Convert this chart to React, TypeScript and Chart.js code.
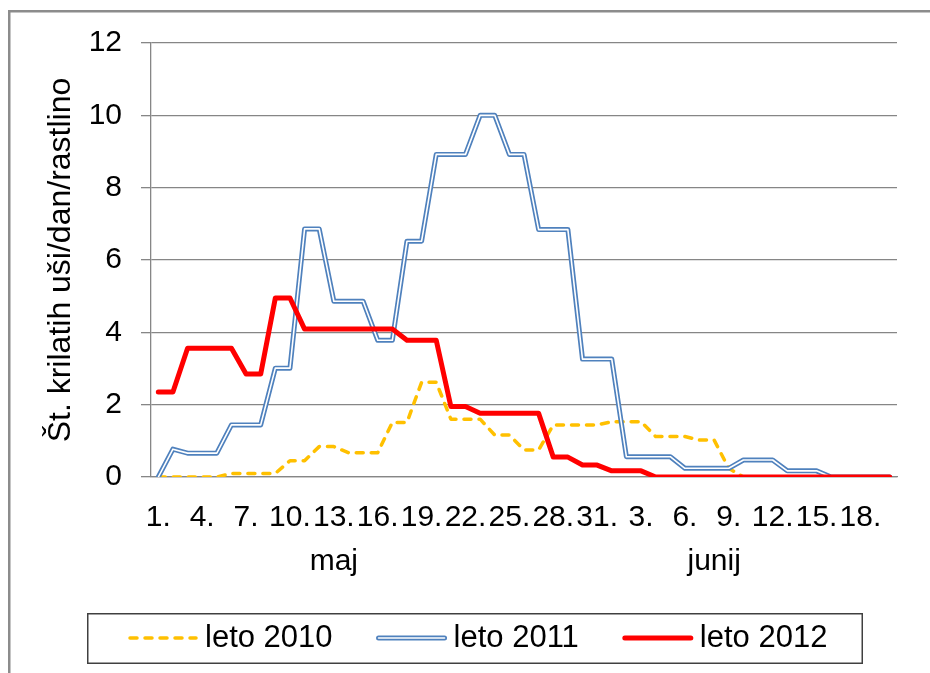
import React, { useEffect, useRef } from 'react';
import { Chart, registerables } from 'chart.js';

Chart.register(...registerables);

// ---- data ----
const dayLabels = [
  '1.', '2.', '3.', '4.', '5.', '6.', '7.', '8.', '9.', '10.',
  '11.', '12.', '13.', '14.', '15.', '16.', '17.', '18.', '19.', '20.',
  '21.', '22.', '23.', '24.', '25.', '26.', '27.', '28.', '29.', '30.', '31.',
  '1.', '2.', '3.', '4.', '5.', '6.', '7.', '8.', '9.', '10.',
  '11.', '12.', '13.', '14.', '15.', '16.', '17.', '18.', '19.', '20.',
];
const monthNames = ['maj', 'junij'];
const monthLabelIndex = [12, 38];

const values2010 = [
  0, 0, 0, 0, 0, 0.1, 0.1, 0.1, 0.1, 0.45,
  0.45, 0.84, 0.84, 0.67, 0.67, 0.67, 1.51, 1.51, 2.62, 2.62,
  1.6, 1.6, 1.6, 1.16, 1.16, 0.75, 0.75, 1.44, 1.44, 1.44,
  1.44, 1.53, 1.53, 1.53, 1.12, 1.12, 1.12, 1.02, 1.02, 0.24,
  0, 0, 0, 0, 0, 0, 0, 0, 0, 0, 0,
];
const values2011 = [
  0, 0.77, 0.66, 0.66, 0.66, 1.44, 1.44, 1.44, 3.01, 3.01,
  6.86, 6.86, 4.86, 4.86, 4.86, 3.78, 3.78, 6.52, 6.52, 8.92,
  8.92, 8.92, 10.0, 10.0, 8.92, 8.92, 6.84, 6.84, 6.84, 3.26,
  3.26, 3.26, 0.56, 0.56, 0.56, 0.56, 0.24, 0.24, 0.24, 0.24,
  0.47, 0.47, 0.47, 0.17, 0.17, 0.17, 0, 0, 0, 0, 0,
];
const values2012 = [
  2.35, 2.35, 3.56, 3.56, 3.56, 3.56, 2.85, 2.85, 4.95, 4.95,
  4.09, 4.09, 4.09, 4.09, 4.09, 4.09, 4.09, 3.78, 3.78, 3.78,
  1.95, 1.95, 1.76, 1.76, 1.76, 1.76, 1.76, 0.55, 0.55, 0.33,
  0.33, 0.17, 0.17, 0.17, 0, 0, 0, 0, 0, 0,
  0, 0, 0, 0, 0, 0, 0, 0, 0, 0, 0,
];
const seriesNames = ['leto 2010', 'leto 2011', 'leto 2012'];
const yTitle = 'Št. krilatih uši/dan/rastlino';

const FONT = "'Liberation Sans', Arial, sans-serif";
const GRID = '#868686';
const ORANGE = '#FFC000';
const BLUE = '#4F81BD';
const RED = '#FF0000';

const frameAndLegend = {
  id: 'frameAndLegend',
  afterDraw(chart: any) {
    const ctx = chart.ctx as CanvasRenderingContext2D;
    ctx.save();
    // outer frame
    ctx.strokeStyle = '#8c8c8c';
    ctx.lineWidth = 2.5;
    ctx.strokeRect(9.25, 11.25, 1000, 1000);
    // legend box
    ctx.strokeStyle = '#404040';
    ctx.lineWidth = 1.5;
    ctx.strokeRect(87.75, 613.75, 774.5, 49.5);

    const lineY = 638;
    const textY = 647;
    const sampleLen = 68;
    let x = 129;
    ctx.font = `31px ${FONT}`;
    ctx.textBaseline = 'alphabetic';
    ctx.textAlign = 'left';
    ctx.lineCap = 'round';
    const drawLine = (color: string, width: number, dash: number[]) => {
      ctx.beginPath();
      ctx.setLineDash(dash);
      ctx.strokeStyle = color;
      ctx.lineWidth = width;
      ctx.moveTo(x + 1, lineY);
      ctx.lineTo(x + sampleLen - 1, lineY);
      ctx.stroke();
    };
    seriesNames.forEach((name, i) => {
      if (i === 0) drawLine(ORANGE, 3.5, [7, 8]);
      if (i === 1) {
        drawLine(BLUE, 5, []);
        drawLine('#ffffff', 1.6, []);
      }
      if (i === 2) drawLine(RED, 5, []);
      ctx.setLineDash([]);
      ctx.fillStyle = '#000';
      ctx.fillText(name, x + sampleLen + 8, textY);
      x += sampleLen + 8 + ctx.measureText(name).width + 45;
    });
    ctx.restore();
  },
};

export default function App() {
  const ref = useRef<HTMLCanvasElement | null>(null);
  useEffect(() => {
    if (!ref.current) return;
    const chart = new Chart(ref.current, {
      type: 'line',
      data: {
        labels: dayLabels,
        datasets: [
          {
            label: seriesNames[2],
            data: values2012,
            borderColor: RED,
            borderWidth: 5,
            pointRadius: 0,
            borderJoinStyle: 'round',
            borderCapStyle: 'round',
            order: 0,
          },
          {
            label: '_inner2011',
            data: values2011,
            borderColor: '#ffffff',
            borderWidth: 1.6,
            pointRadius: 0,
            borderJoinStyle: 'round',
            order: 1,
          },
          {
            label: seriesNames[1],
            data: values2011,
            borderColor: BLUE,
            borderWidth: 5,
            pointRadius: 0,
            borderJoinStyle: 'round',
            borderCapStyle: 'round',
            order: 2,
          },
          {
            label: seriesNames[0],
            data: values2010,
            borderColor: ORANGE,
            borderWidth: 3.5,
            borderDash: [7, 8],
            borderCapStyle: 'round',
            borderJoinStyle: 'round',
            pointRadius: 0,
            order: 3,
          },
        ] as any,
      },
      options: {
        responsive: false,
        animation: false,
        events: [],
        devicePixelRatio: 1,
        layout: { padding: { left: 0, top: 43, right: 33, bottom: 0 } },
        plugins: { legend: { display: false }, tooltip: { enabled: false } },
        scales: {
          x: {
            type: 'category',
            offset: true,
            grid: { display: false, drawTicks: false },
            border: { display: true, color: GRID, width: 1.3 },
            afterFit: (scale: any) => { scale.height = 196; },
            ticks: {
              autoSkip: false,
              maxRotation: 0,
              minRotation: 0,
              padding: 19,
              color: '#000',
              font: { family: FONT, size: 30, lineHeight: 1.45 },
              callback: (_v: any, index: number) => {
                const day = index % 3 === 0 ? dayLabels[index] : '';
                const m = monthLabelIndex.indexOf(index);
                if (m >= 0) return [day, monthNames[m]];
                return day;
              },
            },
          },
          y: {
            min: 0,
            max: 12,
            afterFit: (scale: any) => { scale.width = 151; },
            grid: { color: GRID, lineWidth: 1.3, tickLength: 10, drawTicks: true },
            border: { display: true, color: GRID, width: 1.3 },
            ticks: {
              stepSize: 2,
              padding: 19,
              color: '#000',
              font: { family: FONT, size: 30 },
            },
            title: {
              display: true,
              text: yTitle,
              color: '#000',
              font: { family: FONT, size: 32 },
              padding: { top: 42, bottom: 0 },
            },
          },
        },
      } as any,
      plugins: [frameAndLegend],
    });
    return () => chart.destroy();
  }, []);
  return (
    <div style={{ position: 'absolute', left: 0, top: 0, width: 930, height: 673, background: '#fff' }}>
      <canvas ref={ref} width={930} height={673} style={{ display: 'block' }} />
    </div>
  );
}
